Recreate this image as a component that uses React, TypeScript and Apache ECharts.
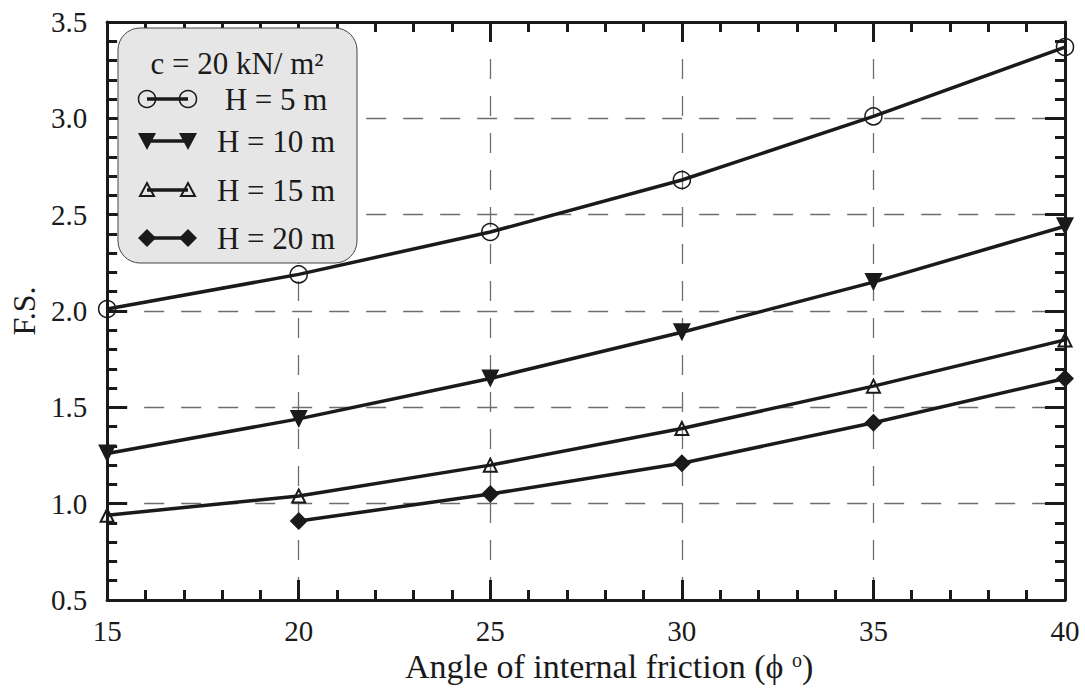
import React, { useEffect, useRef } from "react";
import * as echarts from "echarts";

const phi = [15, 20, 25, 30, 35, 40];
const h5 = [2.01, 2.19, 2.41, 2.68, 3.01, 3.37];
const h10 = [1.26, 1.44, 1.65, 1.89, 2.15, 2.44];
const h15 = [0.94, 1.04, 1.2, 1.39, 1.61, 1.85];
const h20phi = [20, 25, 30, 35, 40];
const h20 = [0.91, 1.05, 1.21, 1.42, 1.65];
const legendTitle = "c = 20 kN/ m²";
const seriesNames = ["H = 5 m", "H = 10 m", "H = 15 m", "H = 20 m"];

const INK = "#1a1a1a";
const FONT = "Liberation Serif";
const FS = 29;
const LFS = 31;

export default function App() {
  const ref = useRef<HTMLDivElement>(null);
  useEffect(() => {
    if (!ref.current) return;
    const chart = echarts.init(ref.current, null, { renderer: "svg" });
    const pair = (xs: number[], ys: number[]) => xs.map((x, i) => [x, ys[i]]);

    const tickCommon = (major: boolean) => ({
      axisLine: { show: true, onZero: false, lineStyle: { color: INK, width: 3 } },
      axisTick: { show: true, inside: true, length: 20, lineStyle: { color: INK, width: 3 } },
      minorTick: { show: true, splitNumber: 5, length: 10, lineStyle: { color: INK, width: 3 } },
      splitLine: {
        show: major,
        lineStyle: { color: "#6e6e6e", width: 1.3, type: [20, 17] },
      },
    });

    const lineBase = {
      type: "line",
      clip: false,
      lineStyle: { color: INK, width: 3.5 },
      z: 3,
    };

    const legendY = [99, 141, 190, 238];
    const lx1 = 147, lx2 = 188;
    const legendGraphics: any[] = [
      {
        type: "rect",
        shape: { x: 118, y: 28, width: 239, height: 235, r: 22 },
        style: { fill: "#e6e6e6", stroke: "#444", lineWidth: 1 },
        z: 100,
      },
      {
        type: "text",
        x: 237,
        y: 63,
        style: { text: legendTitle, font: `${LFS}px ${FONT}`, fill: INK, textAlign: "center", textVerticalAlign: "middle" },
        z: 101,
      },
    ];
    seriesNames.forEach((nm, i) => {
      const y = legendY[i];
      legendGraphics.push({
        type: "line",
        shape: { x1: lx1, y1: y, x2: lx2, y2: y },
        style: { stroke: INK, lineWidth: 3.5 },
        z: 101,
      });
      legendGraphics.push({
        type: "text",
        x: 276,
        y: y,
        style: { text: nm, font: `${LFS}px ${FONT}`, fill: INK, textAlign: "center", textVerticalAlign: "middle" },
        z: 101,
      });
      [lx1, lx2].forEach((cx) => {
        if (i === 0) {
          legendGraphics.push({ type: "circle", shape: { cx, cy: y, r: 8.5 }, style: { fill: "none", stroke: INK, lineWidth: 1.5 }, z: 102 });
        } else if (i === 1) {
          legendGraphics.push({ type: "polygon", shape: { points: [[cx - 9, y - 8], [cx + 9, y - 8], [cx, y + 9]] }, style: { fill: INK }, z: 102 });
        } else if (i === 2) {
          legendGraphics.push({ type: "polygon", shape: { points: [[cx - 7, y + 6], [cx + 7, y + 6], [cx, y - 7]] }, style: { fill: "none", stroke: INK, lineWidth: 2 }, z: 102 });
        } else {
          legendGraphics.push({ type: "polygon", shape: { points: [[cx - 9, y], [cx, y - 9], [cx + 9, y], [cx, y + 9]] }, style: { fill: INK }, z: 102 });
        }
      });
    });

    chart.setOption({
      animation: false,
      backgroundColor: "#ffffff",
      textStyle: { fontFamily: FONT, color: INK },
      grid: { left: 103, right: 20, top: 22, bottom: 95, containLabel: false },
      xAxis: [
        {
          type: "value",
          min: 15,
          max: 40,
          interval: 5,
          position: "bottom",
          ...tickCommon(true),
          axisLabel: { fontSize: FS, fontFamily: FONT, fontWeight: "normal", color: INK, margin: 16 },
          name: "Angle of internal friction (ϕ {sup|o})",
          nameLocation: "middle",
          nameGap: 47,
          nameTextStyle: {
            fontSize: 34,
            fontFamily: FONT,
            color: INK,
            padding: [0, 0, 0, 46],
            rich: { sup: { fontSize: 20, fontFamily: FONT, color: INK, verticalAlign: "top", padding: [0, 0, 14, 0] } },
          },
        },
        {
          type: "value",
          min: 15,
          max: 40,
          interval: 5,
          position: "top",
          ...tickCommon(false),
          axisLabel: { show: false },
        },
      ],
      yAxis: [
        {
          type: "value",
          min: 0.5,
          max: 3.5,
          interval: 0.5,
          position: "left",
          ...tickCommon(true),
          axisLabel: { fontSize: FS, fontFamily: FONT, fontWeight: "normal", color: INK, margin: 20, formatter: (v: number) => v.toFixed(1) },
          name: "F.S.",
          nameLocation: "middle",
          nameGap: 50,
          nameTextStyle: { fontSize: 32, fontFamily: FONT, color: INK },
        },
        {
          type: "value",
          min: 0.5,
          max: 3.5,
          interval: 0.5,
          position: "right",
          ...tickCommon(false),
          axisLabel: { show: false },
        },
      ],
      series: [
        {
          ...lineBase,
          name: seriesNames[0],
          data: pair(phi, h5),
          symbol: "circle",
          symbolSize: 17,
          itemStyle: { color: "rgba(255,255,255,0)", borderColor: INK, borderWidth: 1.5 },
        },
        {
          ...lineBase,
          name: seriesNames[1],
          data: pair(phi, h10),
          symbol: "triangle",
          symbolRotate: 180,
          symbolSize: 18,
          itemStyle: { color: INK, borderColor: INK, borderWidth: 0 },
        },
        {
          ...lineBase,
          name: seriesNames[2],
          data: pair(phi, h15),
          symbol: "triangle",
          symbolSize: 13,
          itemStyle: { color: "rgba(255,255,255,0)", borderColor: INK, borderWidth: 2 },
        },
        {
          ...lineBase,
          name: seriesNames[3],
          data: pair(h20phi, h20),
          symbol: "diamond",
          symbolSize: 18,
          itemStyle: { color: INK, borderColor: INK, borderWidth: 0 },
        },
      ],
      graphic: legendGraphics,
    });
    return () => chart.dispose();
  }, []);
  return <div ref={ref} style={{ position: "fixed", left: 0, top: 0, width: 1085, height: 695 }} />;
}
